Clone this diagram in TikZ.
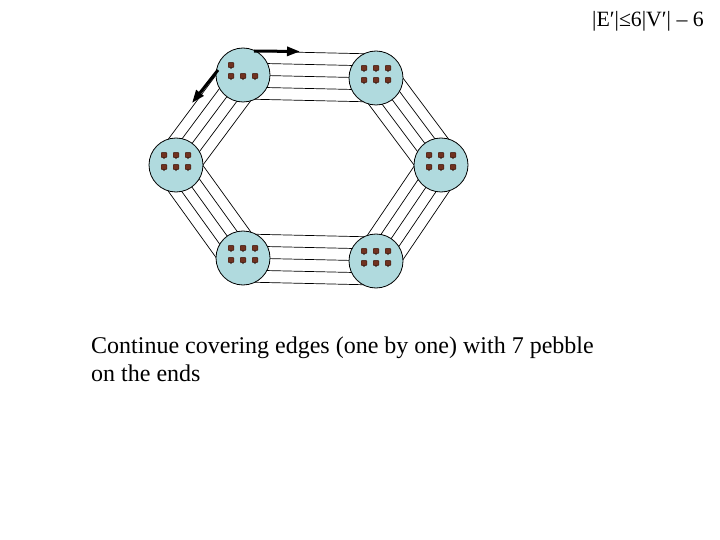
\documentclass[tikz,border=0pt]{standalone}
\usepackage{fontspec}
\setmainfont{Liberation Serif}
\usetikzlibrary{calc,arrows.meta}
\definecolor{hubblue}{RGB}{176,218,222}
\definecolor{pebblefill}{RGB}{112,50,32}
\definecolor{pebbleline}{RGB}{60,25,15}
\begin{document}
\begin{tikzpicture}[x=1pt,y=-1pt,
  hub/.style={circle,draw,line width=0.8pt,fill=hubblue,minimum size=54pt,inner sep=0pt},
  wire/.style={line width=0.7pt},
  movearrow/.style={line width=3pt,-{Triangle[length=13pt,width=9pt]}},
  label/.style={inner sep=0pt,anchor=base west,font=\fontsize{24}{29}\selectfont},
  pebble/.pic={
    \filldraw[fill=pebblefill,draw=pebbleline,line width=0.4pt,rounded corners=0.8pt] (-2.8,-2.6) rectangle (2.8,2.6);
    \fill[pebbleline] (-1.2,2.4) -- (1.2,2.4) -- (0,4.2) -- cycle;
  }]
\useasboundingbox (0,0) rectangle (720,540);
\coordinate (a) at (243,75);
\coordinate (b) at (376,78);
\coordinate (c) at (441,165);
\coordinate (d) at (376,261);
\coordinate (e) at (243,258);
\coordinate (f) at (176,165);
\foreach \p/\q/\s in {a/b/12,e/d/12,f/a/10.8,f/e/10.8,b/c/10.8,d/c/10.8}{
  \foreach \k in {-2,...,2}{
    \pgfmathsetmacro\off{\k*\s}
    \draw[wire] ($(\p)!\off pt!90:(\q)$) -- ($(\q)!\off pt!-90:(\p)$);
  }
}
\node[hub] (A) at (a) {};
\node[hub] (B) at (b) {};
\node[hub] (C) at (c) {};
\node[hub] (D) at (d) {};
\node[hub] (E) at (e) {};
\node[hub] (F) at (f) {};
\foreach \dx/\dy in {-12/-10,-12/1,0/1,12/1}
  \pic at ($(A)+(\dx,\dy)$) {pebble};
\foreach \n in {B,C,D,E,F}
  \foreach \dx/\dy in {-12/-10,0/-10,12/-10,-12/2,0/2,12/2}
    \pic at ($(\n)+(\dx,\dy)$) {pebble};
\coordinate (t1) at (254,51);
\coordinate (t2) at (300,51.5);
\draw[movearrow] (t1) -- (t2);
\coordinate (l1) at (218,70);
\coordinate (l2) at (192,103);
\draw[movearrow] (l1) -- (l2);
\node[inner sep=0pt,anchor=base east,font=\fontsize{21.8}{26}\selectfont] (title) at (704,27) {|E′|≤6|V′| – 6};
\node[label] (line1) at (91,353) {Continue covering edges (one by one) with 7 pebble};
\node[label] (line2) at (91,381) {on the ends};
\end{tikzpicture}
\end{document}
